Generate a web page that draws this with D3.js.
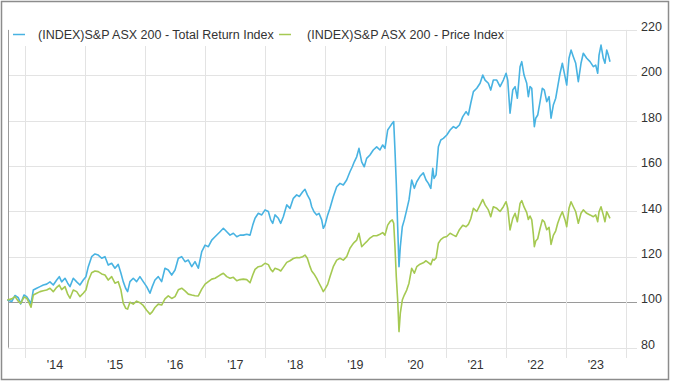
<!DOCTYPE html>
<html>
<head>
<meta charset="utf-8">
<script src="https://cdn.jsdelivr.net/npm/d3@7"></script>
<style>
  body { margin: 0; background: #fff; }
  svg { display: block; font-family: "Liberation Sans", Arial, sans-serif; }
</style>
</head>
<body>
<svg id="chart" width="673" height="384"></svg>
<script>
// observation dates as decimal years, shared by both series
var dates = [
  2013.705, 2013.779, 2013.834, 2013.889, 2013.928, 2013.983,
  2014.028, 2014.072, 2014.100, 2014.138, 2014.195, 2014.250, 2014.305, 2014.361, 2014.416, 2014.471,
  2014.528, 2014.571, 2014.611, 2014.666, 2014.711, 2014.749, 2014.804, 2014.861, 2014.915, 2014.970,
  2015.015, 2015.054, 2015.110, 2015.165, 2015.220, 2015.277, 2015.332, 2015.386, 2015.443, 2015.498,
  2015.553, 2015.598, 2015.636, 2015.676, 2015.709, 2015.748, 2015.803, 2015.859, 2015.914, 2015.969,
  2016.026, 2016.081, 2016.119, 2016.164, 2016.219, 2016.275, 2016.330, 2016.385, 2016.442, 2016.497,
  2016.552, 2016.608, 2016.663, 2016.718, 2016.775, 2016.829, 2016.884, 2016.941, 2016.996,
  2017.051, 2017.107, 2017.162, 2017.246, 2017.301, 2017.357, 2017.412, 2017.467, 2017.524, 2017.578,
  2017.633, 2017.690, 2017.745, 2017.790, 2017.828, 2017.883, 2017.940, 2017.995,
  2018.050, 2018.089, 2018.123, 2018.161, 2018.216, 2018.256, 2018.299, 2018.356, 2018.411, 2018.466,
  2018.522, 2018.566, 2018.622, 2018.660, 2018.699, 2018.744, 2018.772, 2018.810, 2018.855, 2018.893,
  2018.938, 2018.965, 2018.993,
  2019.038, 2019.076, 2019.131, 2019.188, 2019.243, 2019.298, 2019.354, 2019.409, 2019.448, 2019.481,
  2019.521, 2019.559, 2019.604, 2019.647, 2019.687, 2019.742, 2019.797, 2019.854, 2019.909, 2019.954,
  2019.992,
  2020.037, 2020.075, 2020.113, 2020.137, 2020.158, 2020.180, 2020.203, 2020.225, 2020.247, 2020.280,
  2020.313, 2020.353, 2020.391, 2020.436, 2020.480, 2020.520, 2020.574, 2020.629, 2020.674, 2020.713,
  2020.753, 2020.786, 2020.807, 2020.841, 2020.879, 2020.919, 2020.962,
  2021.019, 2021.074, 2021.129, 2021.174, 2021.229, 2021.285, 2021.340, 2021.378, 2021.418, 2021.462,
  2021.518, 2021.573, 2021.618, 2021.656, 2021.711, 2021.751, 2021.794, 2021.851, 2021.906, 2021.961,
  2022.006, 2022.034, 2022.072, 2022.117, 2022.156, 2022.194, 2022.239, 2022.267, 2022.305, 2022.350,
  2022.377, 2022.405, 2022.434, 2022.460, 2022.477, 2022.500, 2022.533, 2022.572, 2022.610, 2022.643,
  2022.683, 2022.722, 2022.755, 2022.793, 2022.833, 2022.866, 2022.905, 2022.943, 2022.988,
  2023.016, 2023.054, 2023.088, 2023.126, 2023.166, 2023.209, 2023.254, 2023.292, 2023.349, 2023.404,
  2023.459, 2023.499, 2023.532, 2023.554, 2023.587, 2023.625, 2023.653, 2023.682, 2023.709, 2023.737
];

var totalReturn = [
  101, 100.3, 103, 102, 99.3, 103.2,
  102.5, 100.7, 99.3, 105.4, 106.2, 106.9, 107.6, 108, 109, 107.6,
  109.8, 111.3, 109, 110.6, 108.4, 106.9, 110.6, 109, 107.6, 109.8,
  111.3, 115.7, 120.1, 121.3, 120.8, 119.4, 120.1, 116.4, 117.2, 115,
  116.7, 112.8, 109.1, 106.2, 104.7, 109.1, 110.6, 109.1, 111.3, 109.1,
  106.9, 104, 106.9, 109.8, 111.3, 109.1, 115, 114.2, 112, 114.2,
  119.4, 120.1, 117.9, 118.6, 115.7, 117.9, 115, 122.3, 125.2,
  124.5, 127.4, 128.9, 131.1, 132.6, 131.1, 129.6, 130.4, 128.9, 129.6,
  129.6, 130, 129.6, 134, 137, 139.2, 138.5, 140.7,
  140, 136.3, 134.8, 138.5, 137, 134.8, 137.7, 142.9, 141.4, 145.8,
  147.3, 146.6, 148.7, 149.8, 147.3, 145.1, 142.1, 139.9, 138.5, 139.2,
  136.3, 132.6, 134,
  138.5, 141.4, 146.5, 150.9, 152.4, 151.7, 153.9, 157.5, 159.7, 161.9,
  164.1, 167.8, 161.9, 159.7, 163.4, 164.9, 167.1, 168.5, 167.1, 169.3,
  167.8,
  175.9, 177.4, 178.9, 179.6, 167.1, 152.4, 133.3, 115.7, 124.5, 133.3,
  136.3, 140.7, 145.1, 153.9, 150.2, 153.1, 155.5, 157, 153.9, 152.4,
  150.2, 159, 154.6, 156.1, 168.5, 171.5, 172.2,
  173.7, 175.9, 177.4, 176.7, 178.1, 181.8, 184, 182.5, 187.7, 192.8,
  194.3, 196.5, 200.1, 197.9, 196.5, 193.5, 197.9, 197.9, 195, 197.9,
  200.9, 197.9, 183.3, 193.5, 195, 189.9, 203.8, 206, 200.1, 196.5,
  190.6, 195, 194.3, 183.3, 177.4, 181.1, 182.5, 188.4, 194.3, 193.5,
  188.4, 190.6, 181.1, 186.9, 189.9, 195, 200.9, 205.3, 199.4,
  195.7, 207.5, 211.1, 208.2, 205.3, 197.2, 205.3, 209.7, 207.5, 206,
  203.8, 204.5, 200.9, 208.9, 213.3, 207.5, 205.3, 211.1, 208.9, 206
];

var priceIndex = [
  101, 101.5, 102.5, 100.5, 99.5, 102.3,
  101.8, 99.5, 97.8, 103.2, 104, 104.7, 105.1, 105.4, 106.2, 104.7,
  106.6, 107.6, 105.6, 106.9, 103.6, 101.8, 105.4, 104.7, 102.5, 104,
  105.4, 109.5, 113, 113.8, 113.5, 112.5, 112, 109.8, 111.3, 108.4,
  109.1, 105.4, 99.6, 97.4, 97, 100, 99.2, 100.5, 99.8, 98.6,
  96.5, 94.8, 95.8, 97.7, 99.2, 98.8, 101.5, 102.8, 101.7, 102.5,
  105.5, 106.2, 105, 103.6, 103.2, 102.9, 102.8, 105.8, 108,
  109.1, 110.2, 110.6, 112, 112.8, 111.3, 110.6, 111, 109.5, 110,
  110.2, 110, 108.6, 112, 114.5, 115.7, 116, 117.2,
  116.6, 114.5, 113.5, 115, 114.5, 113.8, 115.4, 117.6, 118.3, 119.3,
  119.7, 119.6, 120.1, 120.8, 119.4, 115.7, 113.8, 112.5, 110.5, 108.5,
  106.2, 104.7, 105.8,
  107.9, 111.3, 115.7, 118.6, 119.4, 118.6, 120.1, 123.8, 125.3, 126.4,
  127.4, 130.4, 124.5, 125.7, 126.7, 128.3, 129.3, 129.3, 130, 130.7,
  129.6,
  134, 135.5, 136.3, 134.8, 124.5, 111.3, 101, 87.1, 95.2, 101,
  103.2, 105.4, 108.4, 115, 112.8, 115.7, 116.8, 117.4, 118.3, 117.5,
  116.6, 119, 118.6, 119.5, 126, 127.6, 128.5,
  129, 130.4, 129.6, 129, 132, 133.9, 133.3, 134.3, 136.8, 141.4,
  140, 142.9, 145.3, 142.9, 140.7, 137.7, 142.1, 141.4, 140, 142.1,
  144.3, 141.5, 131.9, 137, 139.2, 135.5, 143.6, 144.8, 142, 139.5,
  136.5, 138, 136.3, 130, 124.5, 127, 128, 132.5, 136.3, 135.5,
  132, 133, 125.5, 129.5, 131.5, 134.8, 137.7, 139.9, 136.3,
  133.3, 141.4, 144.3, 142.1, 139.9, 134.8, 139.2, 140.7, 139.2, 138.5,
  137.7, 138.5, 135.5, 139.9, 142.1, 138.5, 135.5, 139.9, 138.5, 137
];

var seriesNames = ["(INDEX)S&P ASX 200 - Total Return Index", "(INDEX)S&P ASX 200 - Price Index"];
var seriesColors = ["#48b3e2", "#a5c952"];
var yTicks = [80, 100, 120, 140, 160, 180, 200, 220];
var yearTicks = [2014, 2015, 2016, 2017, 2018, 2019, 2020, 2021, 2022, 2023, 2024];
var yearLabels = [2014, 2015, 2016, 2017, 2018, 2019, 2020, 2021, 2022, 2023];
var xStart = 2013.717, xEnd = 2024.053;

function toDate(t) {
  var yr = Math.floor(t);
  var a = Date.UTC(yr, 0, 1), b = Date.UTC(yr + 1, 0, 1);
  return new Date(a + (t - yr) * (b - a));
}

var plot = { left: 8, right: 629, top: 29.9, bottom: 347.7 };

var svg = d3.select("#chart");

var x = d3.scaleUtc()
  .domain([toDate(xStart), toDate(xEnd)])
  .range([plot.left, plot.right]);

var y = d3.scaleLinear()
  .domain([80, 220])
  .range([plot.bottom, plot.top]);

var trData = dates.map(function(d, i) { return { date: toDate(d), v: totalReturn[i] }; });
var prData = dates.map(function(d, i) { return { date: toDate(d), v: priceIndex[i] }; });

// outer frame
svg.append("rect")
  .attr("x", 1.5).attr("y", 1.5)
  .attr("width", 667).attr("height", 378)
  .attr("fill", "none")
  .attr("stroke", "#8c8c8c")
  .attr("stroke-width", 1.5);

// horizontal grid + right side ticks
svg.append("g")
  .selectAll("line")
  .data(yTicks)
  .enter().append("line")
    .attr("x1", plot.left)
    .attr("x2", 637)
    .attr("y1", function(d) { return Math.round(y(d)) + 0.5; })
    .attr("y2", function(d) { return Math.round(y(d)) + 0.5; })
    .attr("stroke", function(d) { return d === 100 ? "#9a9a9a" : "#e3e3e3"; })
    .attr("stroke-width", 1);

// vertical grid at year boundaries, running down past the axis as ticks
svg.append("g")
  .selectAll("line")
  .data(yearTicks)
  .enter().append("line")
    .attr("x1", function(d) { return Math.round(x(toDate(d))) + 0.5; })
    .attr("x2", function(d) { return Math.round(x(toDate(d))) + 0.5; })
    .attr("y1", plot.top)
    .attr("y2", 358)
    .attr("stroke", "#e3e3e3")
    .attr("stroke-width", 1);

// left axis line
svg.append("line")
  .attr("x1", plot.left + 0.5).attr("x2", plot.left + 0.5)
  .attr("y1", plot.top).attr("y2", plot.bottom)
  .attr("stroke", "#9a9a9a");

// y labels on the right
svg.append("g")
  .selectAll("text")
  .data(yTicks)
  .enter().append("text")
    .attr("x", 641)
    .attr("y", function(d) { return y(d) + 1; })
    .attr("font-size", 12.5)
    .attr("fill", "#333")
    .text(function(d) { return d; });

// year labels centred in each year
svg.append("g")
  .selectAll("text")
  .data(yearLabels)
  .enter().append("text")
    .attr("x", function(d) { return x(toDate(d + 0.5)); })
    .attr("y", 369)
    .attr("text-anchor", "middle")
    .attr("font-size", 12.5)
    .attr("fill", "#333")
    .text(function(d) { return "'" + String(d).slice(2); });

var line = d3.line()
  .x(function(d) { return x(d.date); })
  .y(function(d) { return y(d.v); });

svg.append("path")
  .datum(trData)
  .attr("fill", "none")
  .attr("stroke", seriesColors[0])
  .attr("stroke-width", 1.6)
  .attr("stroke-linejoin", "round")
  .attr("d", line);

svg.append("path")
  .datum(prData)
  .attr("fill", "none")
  .attr("stroke", seriesColors[1])
  .attr("stroke-width", 1.6)
  .attr("stroke-linejoin", "round")
  .attr("d", line);

// legend with white background over the plot
var legend = svg.append("g");
legend.append("rect")
  .attr("x", 9).attr("y", 22)
  .attr("width", 495).attr("height", 24)
  .attr("fill", "#fff");

var legendX = [13, 279];
var textX = [38, 307];
seriesNames.forEach(function(name, i) {
  legend.append("line")
    .attr("x1", legendX[i]).attr("x2", legendX[i] + 12)
    .attr("y1", 34.5).attr("y2", 34.5)
    .attr("stroke", seriesColors[i])
    .attr("stroke-width", 1.5);
  legend.append("text")
    .attr("x", textX[i])
    .attr("y", 38.5)
    .attr("font-size", 12.5)
    .attr("fill", "#333")
    .text(name);
});
</script>
</body>
</html>
